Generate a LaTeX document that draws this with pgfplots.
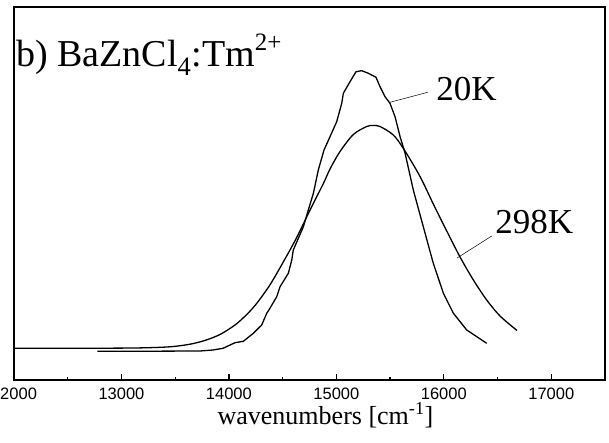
\documentclass[border=0pt]{standalone}
\usepackage{fontspec}
\setmainfont{Liberation Serif}
\newfontfamily\ticksans{Liberation Sans}
\usepackage{pgfplots}
\pgfplotsset{compat=1.18}
\pgfplotstableread{
x y
12000 31.7
12800 31.8
13173 32.1
13452 33.2
13638 35.8
13778 39.6
13917 45.5
14057 55
14150 63.8
14206 70
14271 78.3
14383 95.3
14506 118
14631 142.5
14755 170
14879 196.5
14941 211
15034 228.5
15158 245.5
15283 253.5
15341 254.5
15406 253.5
15530 245
15630 230.5
15779 203.4
15902 176
16027 149
16151 123
16275 100
16399 80
16523 64
16681 49.5
}\warm
\pgfplotstableread{
x y
12775 28.7
13266 28.8
13731 29
13852 30
13945 31.7
14057 37.3
14134 38.7
14227 46.7
14305 55
14352 66.7
14376 70.7
14445 83.3
14476 93.3
14553 106.7
14585 120
14599 130
14693 153.3
14739 170
14786 186.7
14832 210
14885 230
14941 243.3
15003 258.3
15050 276.7
15065 286.7
15127 298.3
15183 308.3
15236 309.3
15298 306.7
15369 302.7
15406 293.3
15453 283.3
15499 276.7
15546 263.3
15593 243.3
15639 227
15716 190
15809 153.3
15902 116.7
15996 86.7
16089 66.7
16213 50
16399 36.7
}\cold
\begin{document}
\begin{tikzpicture}
\begin{axis}[
  at={(0,0)}, anchor=south west,
  scale only axis, width=591pt, height=373pt,
  xmin=12000, xmax=17500, ymin=0, ymax=373,
  axis line style={line width=1.5pt},
  xtick={12000,13000,14000,15000,16000,17000},
  minor x tick num=1,
  ytick=\empty,
  xtick pos=left, tick align=inside,
  major tick length=6pt, minor tick length=3pt,
  tick style={line width=1.2pt, black},
  scaled x ticks=false,
  xticklabel style={font=\ticksans\fontsize{16.5}{18}\selectfont, yshift=-4pt},
  /pgf/number format/assume math mode=true,
  /pgf/number format/1000 sep={},
  clip=false,
]
\addplot[black, line width=1.3pt, smooth] table {\warm};
\addplot[black, line width=1.3pt] table {\cold};
\draw[black, line width=0.5pt] (axis cs:15499,277.7) -- (axis cs:15850,287.7);
\draw[black, line width=0.5pt] (axis cs:16123,122) -- (axis cs:16446,144);
\node[anchor=base west, inner sep=0pt, font=\fontsize{35}{40}\selectfont] at (axis cs:15928,279) {20K};
\node[anchor=base west, inner sep=0pt, font=\fontsize{35}{40}\selectfont] at (axis cs:16477,146) {298K};
\node[anchor=base west, inner sep=0pt, font=\fontsize{38}{40}\selectfont] at (axis cs:12019,313.3) {b) BaZnCl\textsubscript{4}:Tm\raisebox{16pt}{\fontsize{25}{25}\selectfont 2+}};
\node[anchor=base, inner sep=0pt, font=\fontsize{26}{30}\selectfont] at (rel axis cs:0.527,-0.118) {wavenumbers [cm\textsuperscript{-1}]};
\end{axis}
\pgfresetboundingbox
\path (-14pt,-63pt) rectangle (595pt,380pt);
\end{tikzpicture}
\end{document}
